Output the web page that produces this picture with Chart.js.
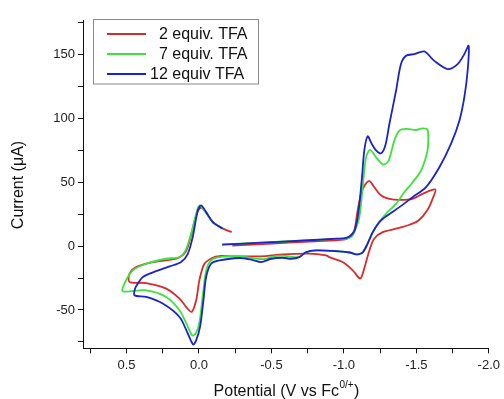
<!DOCTYPE html>
<html>
<head>
<meta charset="utf-8">
<script src="https://cdn.jsdelivr.net/npm/chart.js@4.4.1/dist/chart.umd.min.js"></script>
<style>
  body { margin: 0; background: #fff; }
  #wrap { width: 504px; height: 399px; }
</style>
</head>
<body>
<div id="wrap"><canvas id="cv" width="504" height="399"></canvas></div>
<script>
// series names, in legend order
var seriesNames = ['  2 equiv. TFA', '  7 equiv. TFA', '12 equiv TFA'];
var seriesColors = ['#d92b2b', '#3be33b', '#1a24c8'];

// 2 equiv. TFA : potential (V vs Fc) and current (uA), in scan order
var redV = [-0.23, -0.5, -0.8, -1.0, -1.038, -1.072, -1.095, -1.119, -1.146, -1.176, -1.21, -1.257, -1.314, -1.383, -1.474, -1.543, -1.631,
  -1.612, -1.578, -1.515, -1.452, -1.36, -1.268, -1.21, -1.176, -1.13, -1.112, -1.061, -0.992, -0.9, -0.877, -0.762, -0.578, -0.463, -0.233,
  -0.141, -0.095, -0.038, -0.003, 0.019, 0.05, 0.088, 0.134, 0.226, 0.364, 0.479, 0.479, 0.433, 0.319, 0.157, 0.093, 0.055, 0.02, -0.015,
  -0.05, -0.1, -0.17, -0.226];
var redI = [0.3, 2, 3.8, 5, 7, 12.3, 27.9, 40.9, 48, 50.8, 46.1, 39.6, 37, 36.2, 37, 40.9, 44.3,
  37, 28.5, 20, 16.7, 13.6, 10.9, 6, -3.4, -21.6, -25.5, -19, -12.5, -8.6, -7.3, -5.9, -6.5, -7.8, -8.1,
  -7.8, -9.1, -13.8, -26.8, -42.4, -51.5, -47.7, -41.1, -33.3, -28.9, -28.1, -21.6, -16.4, -12.5, -9.9, -4.7, 8, 24, 30.2,
  26, 18.5, 13.5, 10.9];

// 7 equiv. TFA
var greenV = [-0.16, -0.4, -0.7, -0.95, -1.02, -1.05, -1.072, -1.107, -1.134, -1.153, -1.181, -1.222, -1.272, -1.309, -1.348, -1.383, -1.429,
  -1.498, -1.543, -1.578, -1.58, -1.567, -1.532, -1.475, -1.417, -1.36, -1.29, -1.245, -1.2, -1.16, -1.13, -1.107, -1.084, -1.04, -0.969,
  -0.808, -0.739, -0.693, -0.65, -0.578, -0.5, -0.46, -0.406, -0.279, -0.141, -0.084, -0.05, -0.025, -0.003, 0.02, 0.045, 0.077, 0.134,
  0.226, 0.364, 0.525, 0.514, 0.457, 0.364, 0.226, 0.134, 0.093, 0.054, 0.019, -0.003, -0.04, -0.095, -0.164];
var greenI = [1.3, 2.6, 4.2, 5.6, 5.8, 7, 10.9, 22.7, 51.3, 69.5, 75.3, 69.5, 63.8, 67, 82.6, 90.4, 91.7,
  90.9, 92.2, 90.9, 77.3, 70, 59, 50, 42.2, 33, 25.3, 19, 11, 1, -5, -6.2, -6.5, -5, -4.1,
  -3.4, -5, -8.4, -8.5, -7.5, -8.4, -10, -9.9, -8, -8.6, -11.2, -19, -40, -60, -68, -70, -63, -50.2,
  -39.8, -34.6, -35.4, -29.4, -19, -13.8, -9.9, -8.6, -3.4, 9.7, 25.3, 31.8, 27.5, 18.8, 13.6];

// 12 equiv TFA
var blueV = [-0.16, -0.4, -0.7, -0.95, -1.015, -1.05, -1.075, -1.1, -1.125, -1.141, -1.164, -1.188, -1.222, -1.257, -1.286, -1.314, -1.36,
  -1.394, -1.429, -1.486, -1.555, -1.624, -1.716, -1.785, -1.831, -1.861, -1.854, -1.831, -1.797, -1.739, -1.659, -1.567, -1.474, -1.383,
  -1.3, -1.245, -1.2, -1.16, -1.13, -1.107, -1.084, -1.04, -0.969, -0.808, -0.739, -0.693, -0.636, -0.578, -0.498, -0.429, -0.371, -0.279,
  -0.141, -0.084, -0.05, -0.031, -0.008, 0.02, 0.04, 0.077, 0.134, 0.25, 0.364, 0.445, 0.44, 0.422, 0.39, 0.341, 0.203, 0.123, 0.077,
  0.043, 0.008, -0.015, -0.05, -0.095, -0.164];
var blueI = [1.1, 2.5, 4.2, 5.8, 6.5, 8.5, 12.5, 26, 54, 75, 86, 81, 75, 72.7, 78.7, 95.6, 121.6,
  142.5, 149, 150.3, 152.4, 145, 138.6, 142.5, 150.3, 156.8, 137.3, 116.4, 98.2, 80, 61.7, 46.1, 38.3, 30.5,
  24, 18.8, 11, 1, -5, -6.2, -6.5, -5, -4.1, -3.4, -4.7, -8.6, -9.9, -9.1, -9.9, -12.5, -10.9, -9.3,
  -11.2, -13.8, -24, -42.4, -63, -74, -77, -68.4, -55.5, -45, -39.8, -38.5, -33, -29.4, -24.5, -21.6, -15.9, -12.5, -6,
  7, 27.9, 31.8, 26.6, 18.8, 13.6];

// axis ticks (every tick mark, labelled ones are every other)
var xTicks = [0.75, 0.5, 0.25, 0, -0.25, -0.5, -0.75, -1.0, -1.25, -1.5, -1.75, -2.0];
var xLabelled = [0.5, 0, -0.5, -1.0, -1.5, -2.0];
var yTicks = [-75, -50, -25, 0, 25, 50, 75, 100, 125, 150, 175];
var yLabelled = [-50, 0, 50, 100, 150];

function pts(v, c) {
  var out = [];
  for (var i = 0; i < v.length; i++) out.push({x: v[i], y: c[i]});
  return out;
}

var FONT = "'Liberation Sans', Arial, sans-serif";

var extras = {
  id: 'extras',
  afterDraw: function(chart) {
    var ctx = chart.ctx;
    ctx.save();
    // legend box
    ctx.strokeStyle = '#8a8a8a';
    ctx.lineWidth = 1;
    ctx.strokeRect(93.5, 19.5, 165, 64.5);
    ctx.font = '16px ' + FONT;
    ctx.textBaseline = 'middle';
    ctx.textAlign = 'left';
    for (var i = 0; i < seriesNames.length; i++) {
      var y = 34 + i * 20;
      ctx.strokeStyle = seriesColors[i];
      ctx.lineWidth = 1.8;
      ctx.beginPath();
      ctx.moveTo(107, y);
      ctx.lineTo(146, y);
      ctx.stroke();
      ctx.fillStyle = '#111';
      ctx.fillText(seriesNames[i], 150, y + 0.5);
    }
    // x title with superscript
    ctx.fillStyle = '#111';
    ctx.textBaseline = 'alphabetic';
    var main = 'Potential (V vs Fc', sup = '0/+', end = ')';
    ctx.font = '16px ' + FONT;
    var w1 = ctx.measureText(main).width, w3 = ctx.measureText(end).width;
    ctx.font = '10px ' + FONT;
    var w2 = ctx.measureText(sup).width;
    var x0 = 286 - (w1 + w2 + w3) / 2, base = 396;
    ctx.font = '16px ' + FONT;
    ctx.fillText(main, x0, base);
    ctx.font = '10px ' + FONT;
    ctx.fillText(sup, x0 + w1 + 0.5, base - 8);
    ctx.font = '16px ' + FONT;
    ctx.fillText(end, x0 + w1 + w2 + 1, base);
    // y title
    ctx.translate(19, 185);
    ctx.rotate(-Math.PI / 2);
    ctx.textAlign = 'center';
    ctx.textBaseline = 'middle';
    ctx.fillText('Current (\u03bcA)', 0, 0);
    ctx.restore();
  }
};

var sets = [redV, greenV, blueV].map(function(v, i) {
  var c = [redI, greenI, blueI][i];
  return {
    label: seriesNames[i].trim(),
    data: pts(v, c),
    borderColor: seriesColors[i],
    borderWidth: 1.8,
    pointRadius: 0,
    showLine: true,
    tension: 0.3,
    fill: false,
    order: 2 - i
  };
});

new Chart(document.getElementById('cv'), {
  type: 'scatter',
  data: { datasets: sets },
  options: {
    responsive: false,
    animation: false,
    layout: { padding: { left: 0, top: 20, right: 14.5, bottom: 0 } },
    plugins: { legend: { display: false }, tooltip: { enabled: false } },
    scales: {
      x: {
        type: 'linear', reverse: true, min: -2.0, max: 0.8,
        afterBuildTicks: function(s) { s.ticks = xTicks.map(function(v) { return {value: v}; }); },
        afterFit: function(s) { s.height = 50.7; },
        border: { display: true, color: '#111', width: 1 },
        grid: { drawOnChartArea: false, drawTicks: true, tickLength: 5, color: '#111' },
        ticks: {
          autoSkip: false, maxRotation: 0, padding: 4, color: '#222',
          font: { size: 13, family: FONT },
          callback: function(v) { return xLabelled.indexOf(v) >= 0 ? v.toFixed(1) : ''; }
        }
      },
      y: {
        type: 'linear', min: -80, max: 177,
        afterBuildTicks: function(s) { s.ticks = yTicks.map(function(v) { return {value: v}; }); },
        afterFit: function(s) { s.width = 83; },
        border: { display: true, color: '#111', width: 1 },
        grid: { drawOnChartArea: false, drawTicks: true, tickLength: 5, color: '#111' },
        ticks: {
          autoSkip: false, padding: 3, color: '#222',
          font: { size: 13, family: FONT },
          callback: function(v) { return yLabelled.indexOf(v) >= 0 ? String(v) : ''; }
        }
      }
    }
  },
  plugins: [extras]
});
</script>
</body>
</html>
